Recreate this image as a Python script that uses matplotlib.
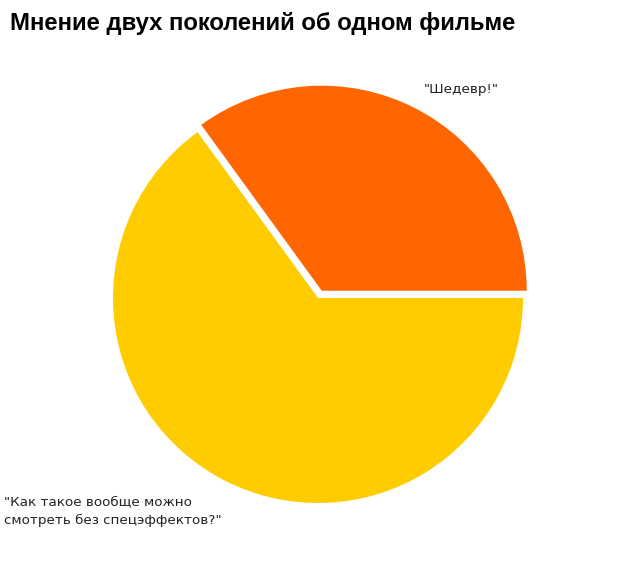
"""
pie chart: two generations' opinion of one film
"""
import matplotlib.pyplot as plt
from matplotlib import font_manager
from matplotlib.transforms import offset_copy

title = "Мнение двух поколений об одном фильме"
labels = ['"Шедевр!"', '"Как такое вообще можно\nсмотреть без спецэффектов?"']
shares = [35, 65]
colors = ["#FF6600", "#FFCC00"]
explode = [0.04, 0.0]

W, H = 640, 565
cx, cy, rad = 318, 298, 205   # pie centre and radius in pixels
lim = 1.3


def bold_sans():
    """pick the regular-width Liberation Sans Bold file"""
    for f in font_manager.fontManager.ttflist:
        if f.name == "Liberation Sans" and f.weight == 700 and f.style == "normal":
            return font_manager.FontProperties(fname=f.fname, size=17.2)
    return font_manager.FontProperties(family="DejaVu Sans", weight="bold", size=15)


def main():
    fig = plt.figure(figsize=(W / 100, H / 100), dpi=100)
    side = 2 * lim * rad
    ax = fig.add_axes([(cx - side / 2) / W, (H - cy - side / 2) / H, side / W, side / H])

    _, texts = ax.pie(
        shares,
        labels=labels,
        colors=colors,
        explode=explode,
        startangle=0,
        counterclock=True,
        labeldistance=1.13,
        wedgeprops={"linewidth": 0},
        textprops={"fontsize": 9.7, "color": "#222222", "family": "DejaVu Sans"},
    )
    ax.set_xlim(-lim, lim)
    ax.set_ylim(-lim, lim)
    ax.set_aspect("equal")
    ax.axis("off")

    # nudge the labels a few pixels to sit where the original has them
    texts[0].set_transform(offset_copy(ax.transData, fig=fig, x=-3, y=-5, units="dots"))
    texts[1].set_transform(offset_copy(ax.transData, fig=fig, x=9, y=-7, units="dots"))
    texts[1].set_multialignment("left")
    texts[1].set_linespacing(1.6)

    fig.text(10 / W, 1 - 12 / H, title, ha="left", va="top", fontproperties=bold_sans())

    fig.savefig("out.png", dpi=100)


if __name__ == "__main__":
    main()
